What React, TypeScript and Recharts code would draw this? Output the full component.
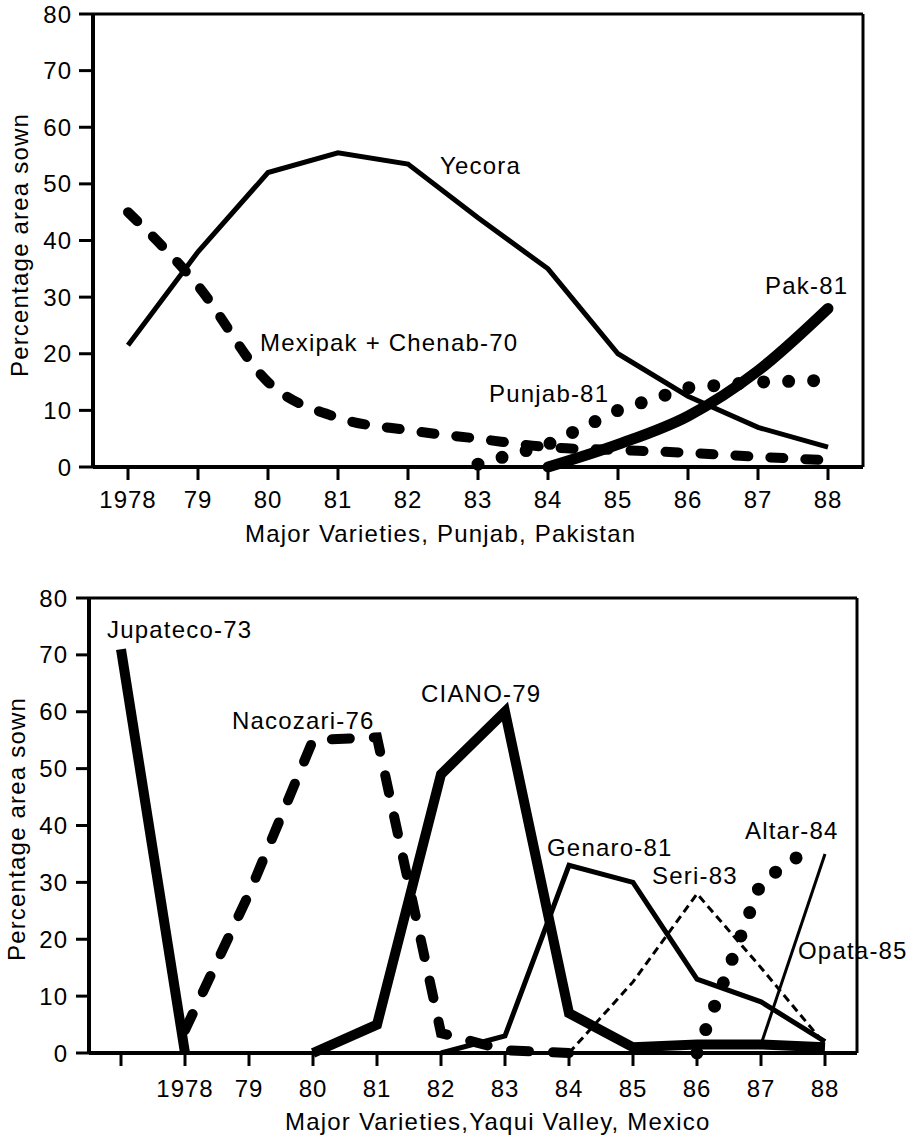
import React from 'react';
import { LineChart, Line, XAxis, YAxis, ReferenceLine } from 'recharts';

const FONT = '"Liberation Sans", Arial, Helvetica, sans-serif';

// Punjab, Pakistan (top panel)
const punjabYears = [1978, 1979, 1980, 1981, 1982, 1983, 1984, 1985, 1986, 1987, 1988];
const punjabTickLabels = ['1978', '79', '80', '81', '82', '83', '84', '85', '86', '87', '88'];
const yecora = [21.5, 38, 52, 55.5, 53.5, 44, 35, 20, 12.5, 7, 3.5];
const mexipakChenab = [45, 32, 15, 8.7, 6.5, 5, 3.5, 3, 2.5, 1.8, 1.2];
const punjab81 = [null, null, null, null, null, 0.5, 4, 10, 14, 15, 15.3];
const pak81 = [null, null, null, null, null, null, 0, 4, 9, 17, 28];

// Yaqui Valley, Mexico (bottom panel)
const yaquiYears = [1977, 1978, 1979, 1980, 1981, 1982, 1983, 1984, 1985, 1986, 1987, 1988];
const yaquiTickLabels = ['', '1978', '79', '80', '81', '82', '83', '84', '85', '86', '87', '88'];
const jupateco73 = [71, 0, null, null, null, null, null, null, null, null, null, null];
const nacozari76 = [null, 4, 28, 55, 55.5, 3.5, 0.5, 0, null, null, null, null];
const ciano79 = [null, null, null, 0, 5, 49, 60, 7, 1, 1.5, 1.5, 1];
const genaro81 = [null, null, null, null, null, 0, 3, 33, 30, 13, 9, 2];
const seri83 = [null, null, null, null, null, null, null, 0, 12.5, 28, 15, 1.5];
const opata85 = [null, null, null, null, null, null, null, null, null, null, 1.5, 35];
const altar84Years = [1986, 1987, 1987.7];
const altar84 = [0, 30, 35.5];

const yTicks = [0, 10, 20, 30, 40, 50, 60, 70, 80];

const punjabData = punjabYears.map((year, i) => ({
  year,
  yecora: yecora[i],
  mexipak: mexipakChenab[i],
  punjab81: punjab81[i],
  pak81: pak81[i],
}));

const yaquiData = yaquiYears.map((year, i) => ({
  year,
  jupateco: jupateco73[i],
  nacozari: nacozari76[i],
  ciano: ciano79[i],
  genaro: genaro81[i],
  seri: seri83[i],
  opata: opata85[i],
}));

const altarData = altar84Years.map((year, i) => ({ year, altar: altar84[i] }));

const txt = { fontFamily: FONT, fontSize: 24, fill: '#000', letterSpacing: 1.2 };
const axisLine = { stroke: '#000', strokeWidth: 4 };
const tickLine = { stroke: '#000', strokeWidth: 3 };
const tick = { fill: '#000', fontSize: 24, fontFamily: FONT, letterSpacing: 1 };

const lbl = (v: number, years: number[], labels: string[]) => {
  const i = years.indexOf(v);
  return i >= 0 ? labels[i] : '';
};

export default function App() {
  return (
    <div style={{ position: 'absolute', left: 0, top: 0, width: 923, height: 1138, background: '#fff' }}>
      <div style={{ position: 'absolute', left: 0, top: 0 }}>
        <LineChart width={923} height={560} data={punjabData} margin={{ top: 14, right: 60, bottom: 33, left: 33 }}>
          <XAxis
            dataKey="year"
            type="number"
            domain={[1977.5, 1988.5]}
            ticks={punjabYears}
            interval={0}
            tickFormatter={(v) => lbl(v, punjabYears, punjabTickLabels)}
            height={60}
            tickSize={13}
            tickMargin={11}
            axisLine={axisLine}
            tickLine={tickLine}
            tick={tick}
          />
          <YAxis
            type="number"
            domain={[0, 80]}
            ticks={yTicks}
            interval={0}
            width={60}
            tickSize={14}
            tickMargin={7}
            axisLine={axisLine}
            tickLine={tickLine}
            tick={tick}
          />
          <ReferenceLine y={80} stroke="#000" strokeWidth={3} />
          <ReferenceLine x={1988.5} stroke="#000" strokeWidth={3} />
          <Line dataKey="yecora" type="linear" stroke="#000" strokeWidth={5} dot={false} activeDot={false} isAnimationActive={false} />
          <Line dataKey="mexipak" type="monotone" stroke="#000" strokeWidth={10} strokeDasharray="13 22" strokeLinecap="round" dot={false} activeDot={false} isAnimationActive={false} />
          <Line dataKey="punjab81" type="linear" stroke="#000" strokeWidth={13} strokeDasharray="0 25" strokeLinecap="round" dot={false} activeDot={false} isAnimationActive={false} />
          <Line dataKey="pak81" type="monotone" stroke="#000" strokeWidth={11} strokeLinecap="round" dot={false} activeDot={false} isAnimationActive={false} />
          <text x={440} y={174} {...txt}>Yecora</text>
          <text x={765} y={294} {...txt}>Pak-81</text>
          <text x={260} y={351} {...txt}>Mexipak + Chenab-70</text>
          <text x={489} y={402} {...txt}>Punjab-81</text>
          <text x={245} y={542} {...txt}>Major Varieties, Punjab, Pakistan</text>
          <text x={19} y={245} transform="rotate(-90, 19, 245)" textAnchor="middle" dominantBaseline="central" {...txt}>
            Percentage area sown
          </text>
        </LineChart>
      </div>
      <div style={{ position: 'absolute', left: 0, top: 560 }}>
        <LineChart width={923} height={578} data={yaquiData} margin={{ top: 38, right: 66, bottom: 30, left: 29 }}>
          <XAxis
            dataKey="year"
            type="number"
            domain={[1976.5, 1988.5]}
            ticks={yaquiYears}
            interval={0}
            tickFormatter={(v) => lbl(v, yaquiYears, yaquiTickLabels)}
            height={55}
            tickSize={13}
            tickMargin={14}
            axisLine={axisLine}
            tickLine={tickLine}
            tick={tick}
          />
          <YAxis
            type="number"
            domain={[0, 80]}
            ticks={yTicks}
            interval={0}
            width={60}
            tickSize={13}
            tickMargin={8}
            axisLine={axisLine}
            tickLine={tickLine}
            tick={tick}
          />
          <ReferenceLine y={80} stroke="#000" strokeWidth={3} />
          <ReferenceLine x={1988.5} stroke="#000" strokeWidth={3} />
          <Line dataKey="jupateco" type="linear" stroke="#000" strokeWidth={10} dot={false} activeDot={false} isAnimationActive={false} />
          <Line dataKey="nacozari" type="linear" stroke="#000" strokeWidth={10} strokeDasharray="18 24" strokeLinecap="round" dot={false} activeDot={false} isAnimationActive={false} />
          <Line dataKey="ciano" type="linear" stroke="#000" strokeWidth={10} dot={false} activeDot={false} isAnimationActive={false} />
          <Line dataKey="genaro" type="linear" stroke="#000" strokeWidth={5} dot={false} activeDot={false} isAnimationActive={false} />
          <Line dataKey="seri" type="linear" stroke="#000" strokeWidth={3} strokeDasharray="8 5" dot={false} activeDot={false} isAnimationActive={false} />
          <Line dataKey="opata" type="linear" stroke="#000" strokeWidth={3} dot={false} activeDot={false} isAnimationActive={false} />
          <Line data={altarData} dataKey="altar" type="linear" stroke="#000" strokeWidth={13} strokeDasharray="0 25" strokeLinecap="round" dot={false} activeDot={false} isAnimationActive={false} />
          <text x={107} y={78} {...txt}>Jupateco-73</text>
          <text x={232} y={169} {...txt}>Nacozari-76</text>
          <text x={421} y={142} {...txt}>CIANO-79</text>
          <text x={547} y={296} {...txt}>Genaro-81</text>
          <text x={745} y={279} {...txt}>Altar-84</text>
          <text x={652} y={324} {...txt}>Seri-83</text>
          <rect x={796} y={375} width={118} height={30} fill="#fff" />
          <text x={798} y={399} {...txt}>Opata-85</text>
          <text x={285} y={570} {...txt}>Major Varieties,Yaqui Valley, Mexico</text>
          <text x={16} y={269} transform="rotate(-90, 16, 269)" textAnchor="middle" dominantBaseline="central" {...txt}>
            Percentage area sown
          </text>
        </LineChart>
      </div>
    </div>
  );
}
